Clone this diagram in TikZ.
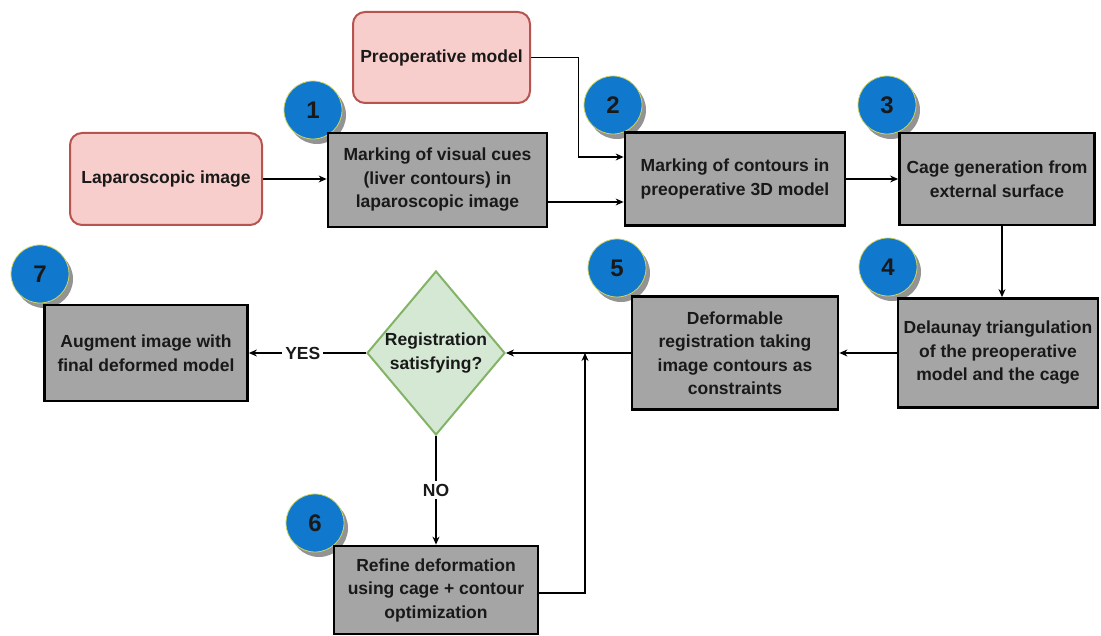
\documentclass[tikz,border=0pt]{standalone}
\usepackage{fontspec}
\setmainfont{Liberation Sans}
\usetikzlibrary{shapes.geometric,shadows,arrows.meta}
\definecolor{qgray}{RGB}{165,165,165}
\definecolor{qpink}{RGB}{248,206,204}
\definecolor{qred}{RGB}{184,84,80}
\definecolor{qmint}{RGB}{213,232,212}
\definecolor{qleaf}{RGB}{130,179,102}
\definecolor{qblue}{RGB}{16,120,205}
\definecolor{qrim}{RGB}{205,212,95}
\definecolor{qink}{RGB}{25,25,25}
\tikzset{
  boxfont/.style={font=\fontsize{17.5}{23.5}\selectfont\bfseries, text=qink},
  stepbox/.style={draw=black, line width=2.8pt, fill=qgray, align=center, inner sep=0pt, boxfont},
  source/.style={draw=qred, line width=2pt, fill=qpink, rounded corners=12pt, align=center, inner sep=0pt, boxfont},
  decision/.style={diamond, draw=qleaf, line width=2pt, fill=qmint, inner sep=0pt},
  stepnum/.style={circle, fill=qblue, draw=qrim, line width=0.8pt, minimum size=58pt, inner sep=0pt,
    font=\fontsize{24}{24}\selectfont\bfseries, text=black!90,
    drop shadow={shadow xshift=4pt, shadow yshift=-5pt, fill=gray!85, opacity=1}},
  flow/.style={-{Stealth[length=8pt,width=7pt]}, line width=1.1pt},
  tag/.style={fill=white, inner sep=3pt, boxfont}
}
\begin{document}
\begin{tikzpicture}[x=1pt,y=-1pt]
\useasboundingbox (0,0) rectangle (1101,636);
\node[stepnum] (n1) at (313,110) {1};
\node[stepnum] (n2) at (613,105) {2};
\node[stepnum] (n3) at (887,105) {3};
\node[stepnum] (n4) at (888,267) {4};
\node[stepnum] (n5) at (617,268) {5};
\node[stepnum] (n6) at (315,523) {6};
\node[stepnum] (n7) at (40,274) {7};
\node[source, minimum width=177pt, minimum height=91pt] (preop) at (441.5,57.5) {Preoperative model};
\node[source, minimum width=192pt, minimum height=92pt] (lap) at (166,179) {Laparoscopic image};
\node[stepbox, minimum width=219pt, minimum height=94pt] (mark) at (437.5,180) {Marking of visual cues\\(liver contours) in\\laparoscopic image};
\node[stepbox, minimum width=220pt, minimum height=93pt] (contour) at (735,179) {Marking of contours in\\preoperative 3D model};
\node[stepbox, minimum width=195pt, minimum height=92pt] (cage) at (997,179) {Cage generation from\\external surface};
\node[stepbox, minimum width=200pt, minimum height=109pt] (delaunay) at (998,353) {Delaunay triangulation\\of the preoperative\\model and the cage};
\node[stepbox, minimum width=206pt, minimum height=113pt] (deform) at (735,353) {Deformable\\registration taking\\image contours as\\constraints};
\node[decision, minimum width=138pt, minimum height=164pt] (reg) at (436,353) {};
\node[boxfont, align=center] (regtxt) at (reg) {Registration\\satisfying?};
\node[stepbox, minimum width=203pt, minimum height=96pt] (augment) at (146,353) {Augment image with\\final deformed model};
\node[stepbox, minimum width=204pt, minimum height=88pt] (refine) at (436,590) {Refine deformation\\using cage + contour\\optimization};
\coordinate (join) at (585,353);
\draw[flow] (lap.east) -- (lap.east -| mark.west);
\draw[flow] ([yshift=-22pt]mark.east) -- ([yshift=-22pt]mark.east -| contour.west);
\draw[flow] (preop.east) -| ([xshift=-45pt,yshift=22pt]contour.west) -- ([yshift=22pt]contour.west);
\draw[flow] (contour.east) -- (contour.east -| cage.west);
\draw[flow] ([xshift=5pt]cage.south) -- ([xshift=5pt]cage.south |- delaunay.north);
\draw[flow] (delaunay.west) -- (delaunay.west -| deform.east);
\draw[flow] (deform.west) -- (reg.east);
\draw[flow] (reg.west) -- node[tag, pos=0.54] {YES} (augment.east);
\draw[flow] (reg.south) -- node[tag, pos=0.5] {NO} (refine.north);
\draw[flow] ([yshift=-3pt]refine.east) -| (join);
\end{tikzpicture}
\end{document}
